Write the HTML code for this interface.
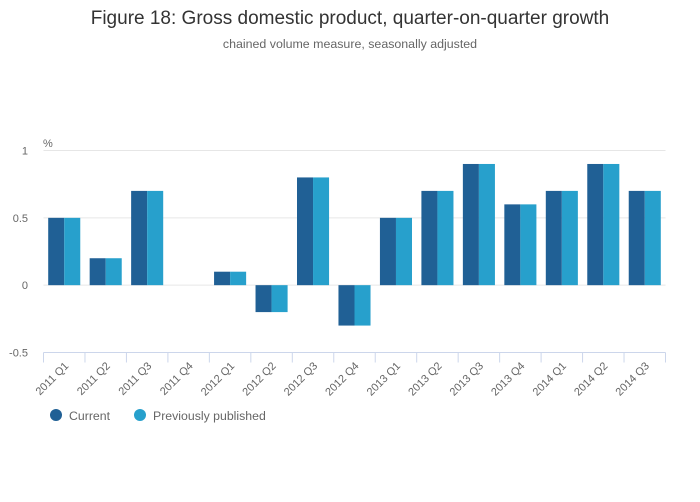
<!DOCTYPE html>
<html><head><meta charset="utf-8"><style>
body{margin:0;background:#fff;font-family:"Liberation Sans",sans-serif}
</style></head><body>
<svg id="chart" width="700" height="502" style="display:block">
<text x="350" y="24" text-anchor="middle" font-size="19" fill="#333">Figure 18: Gross domestic product, quarter-on-quarter growth</text>
<text x="350" y="48" text-anchor="middle" font-size="12.4" fill="#666">chained volume measure, seasonally adjusted</text>
<text x="43" y="147" font-size="11" fill="#666">%</text>
<g id="grid"></g><g id="bars"></g><g id="xaxis"></g>
<g>
<circle cx="56" cy="415" r="6" fill="#206095"/>
<text x="69" y="420" font-size="12.3" fill="#666">Current</text>
<circle cx="140" cy="415" r="6" fill="#27a0cc"/>
<text x="153" y="420" font-size="12.3" fill="#666">Previously published</text>
</g>
</svg>
<script>
const categories=["2011 Q1","2011 Q2","2011 Q3","2011 Q4","2012 Q1","2012 Q2","2012 Q3","2012 Q4","2013 Q1","2013 Q2","2013 Q3","2013 Q4","2014 Q1","2014 Q2","2014 Q3"];
const current=[0.5,0.2,0.7,0,0.1,-0.2,0.8,-0.3,0.5,0.7,0.9,0.6,0.7,0.9,0.7];
const previous=[0.5,0.2,0.7,0,0.1,-0.2,0.8,-0.3,0.5,0.7,0.9,0.6,0.7,0.9,0.7];
const yTicks=[-0.5,0,0.5,1];
const yTickLabels=["-0.5","0","0.5","1"];
const NS="http://www.w3.org/2000/svg";
const L=43.5,R=665.5,T=150.5,B=352.5,yMin=-0.5,yMax=1;
const y=v=>B-(v-yMin)/(yMax-yMin)*(B-T);
const bw=(R-L)/categories.length;
const x=i=>L+i*bw;
function mk(tag,attrs,parent){const e=document.createElementNS(NS,tag);for(const k in attrs)e.setAttribute(k,attrs[k]);parent.appendChild(e);return e;}
const grid=document.getElementById('grid'),bars=document.getElementById('bars'),xa=document.getElementById('xaxis');
yTicks.forEach((t,i)=>{
 if(t!==yMin){const l=mk('line',{x1:L,x2:R,y1:y(t),y2:y(t),stroke:'#e6e6e6'},grid);
 
 }
 const tx=mk('text',{x:28,y:y(t)+4,'text-anchor':'end','font-size':11,fill:'#666'},grid);
 tx.textContent=yTickLabels[i];
 
 
});
const pad=4.7,w=(bw-2*pad)/2;
categories.forEach((c,i)=>{
 [[current,'#206095','bar-current'],[previous,'#27a0cc','bar-previous']].forEach((s,j)=>{
  const v=s[0][i];const y0=y(0),y1=y(v);
  const r=mk('rect',{x:x(i)+pad+j*w,y:Math.min(y0,y1),width:w,height:Math.abs(y1-y0),fill:s[1]},bars);
  
  
 });
 const tk=mk('line',{x1:x(i),x2:x(i),y1:B,y2:B+10,stroke:'#ccd6eb'},xa);
 
 
 const cx=x(i)+bw/2+5,cy=B+14;
 const tx=mk('text',{x:cx,y:cy,'text-anchor':'end','font-size':11,fill:'#666',transform:`rotate(-45 ${cx} ${cy})`},xa);
 tx.textContent=c;
 
 
});
const lt=mk('line',{x1:R,x2:R,y1:B,y2:B+10,stroke:'#ccd6eb'},xa);


const ax=mk('line',{x1:L,x2:R,y1:B,y2:B,stroke:'#ccd6eb'},xa);


</script>
</body></html>
